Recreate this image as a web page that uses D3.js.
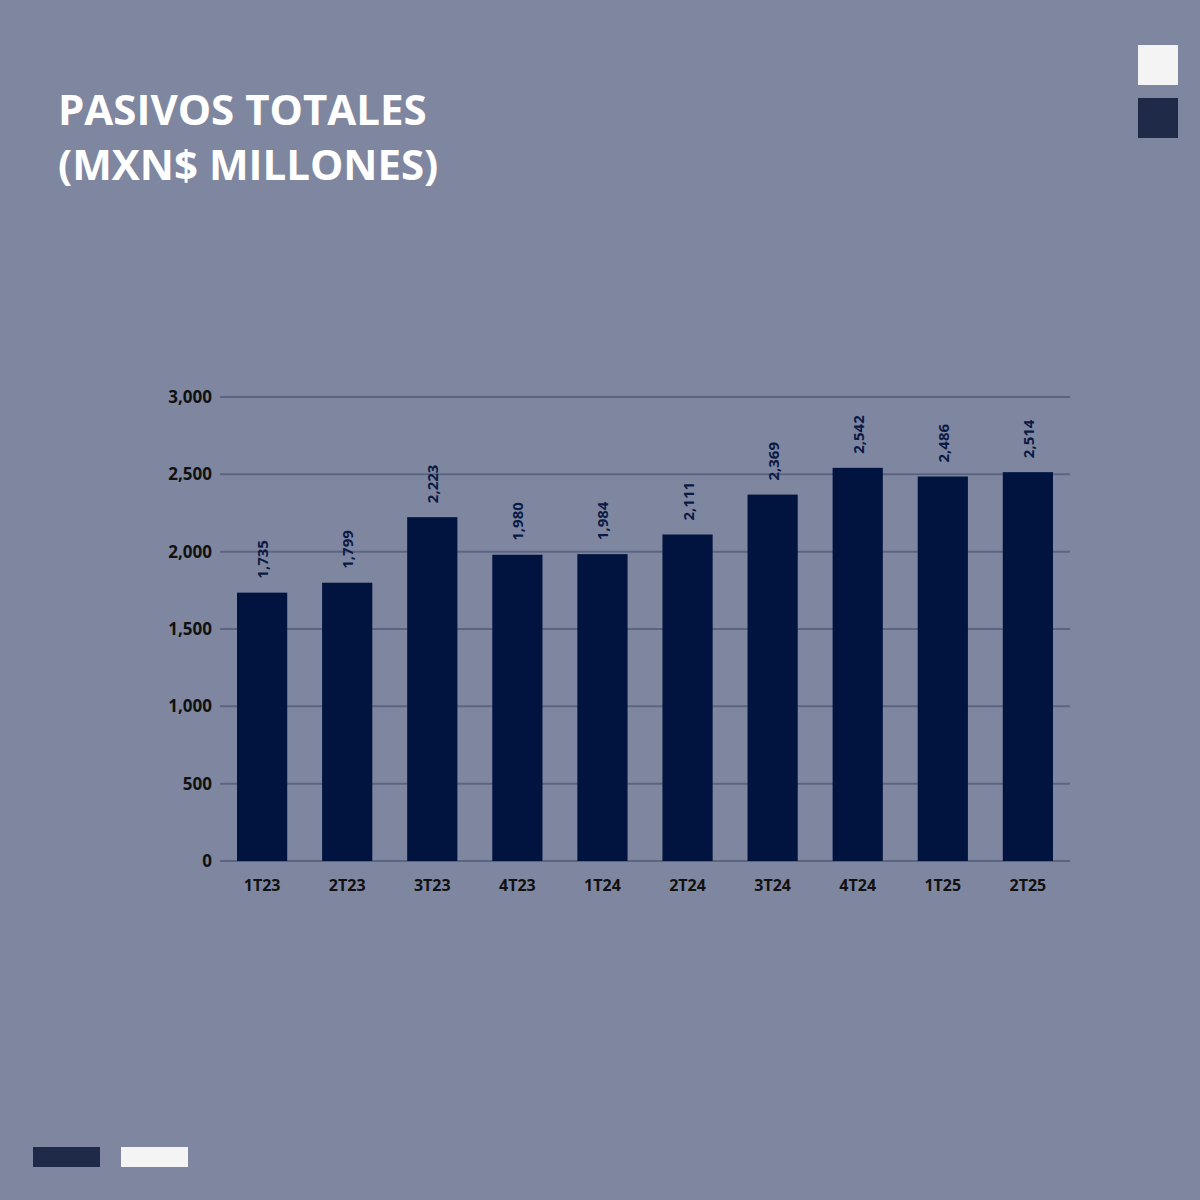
<!DOCTYPE html>
<html><head><meta charset="utf-8">
<script src="https://cdn.jsdelivr.net/npm/d3@7/dist/d3.min.js"></script>
<style>body{margin:0;background:#7f87a0}</style></head>
<body><svg id="c" width="1200" height="1200"></svg>
<script>
const categories=["1T23","2T23","3T23","4T23","1T24","2T24","3T24","4T24","1T25","2T25"];
const values=[1735,1799,2223,1980,1984,2111,2369,2542,2486,2514];
const yTicks=[0,500,1000,1500,2000,2500,3000];
const titleLines=["PASIVOS TOTALES","(MXN$ MILLONES)"];

const svg=d3.select("#c");
svg.append("rect").attr("width",1200).attr("height",1200).attr("fill","#7f87a0");
svg.append("rect").attr("x",1138).attr("y",45).attr("width",40).attr("height",40).attr("fill","#f4f4f5");
svg.append("rect").attr("x",1138).attr("y",98).attr("width",40).attr("height",40).attr("fill","#1f2a48");
svg.append("rect").attr("x",33).attr("y",1147).attr("width",67).attr("height",20).attr("fill","#1f2a48");
svg.append("rect").attr("x",121).attr("y",1147).attr("width",67).attr("height",20).attr("fill","#f4f4f5");

svg.selectAll("text.t").data(titleLines).join("text").attr("class","t")
 .attr("x",58).attr("y",(d,i)=>125+i*55).attr("fill","#fff")
 .attr("font-family","Open Sans, sans-serif").attr("font-weight",700).attr("font-size",42).text(d=>d);

const x=d3.scaleBand().domain(categories).range([220,1070]).paddingInner(0.41).paddingOuter(0.2);
const y=d3.scaleLinear().domain([0,3000]).range([861,397]);

svg.append("g").selectAll("line").data(yTicks).join("line")
 .attr("x1",220).attr("x2",1070).attr("y1",d=>y(d)).attr("y2",d=>y(d))
 .attr("stroke","#5c6580").attr("stroke-width",2);

const ya=svg.append("g").attr("transform","translate(205,0)")
 .call(d3.axisLeft(y).tickValues(yTicks).tickSize(0).tickFormat(d3.format(",")));
ya.select(".domain").remove();
ya.selectAll("text").attr("font-family","Open Sans, sans-serif").attr("font-weight",700).attr("font-size",17).attr("fill","#111").attr("dx",10);

const xa=svg.append("g").attr("transform","translate(0,877)")
 .call(d3.axisBottom(x).tickSize(0));
xa.select(".domain").remove();
xa.selectAll("text").attr("font-family","Open Sans, sans-serif").attr("font-weight",700).attr("font-size",16).attr("fill","#111");

svg.append("g").selectAll("rect").data(values).join("rect")
 .attr("x",(d,i)=>x(categories[i])).attr("width",x.bandwidth())
 .attr("y",d=>y(d)).attr("height",d=>y(0)-y(d)).attr("fill","#00143f");

svg.append("g").selectAll("text").data(values).join("text")
 .attr("transform",(d,i)=>`translate(${x(categories[i])+x.bandwidth()/2+6},${y(d)-14}) rotate(-90)`)
 .attr("font-family","Open Sans, sans-serif").attr("font-weight",700).attr("font-size",15)
 .attr("fill","#0b1a45").text(d=>d3.format(",")(d));
</script></body></html>
